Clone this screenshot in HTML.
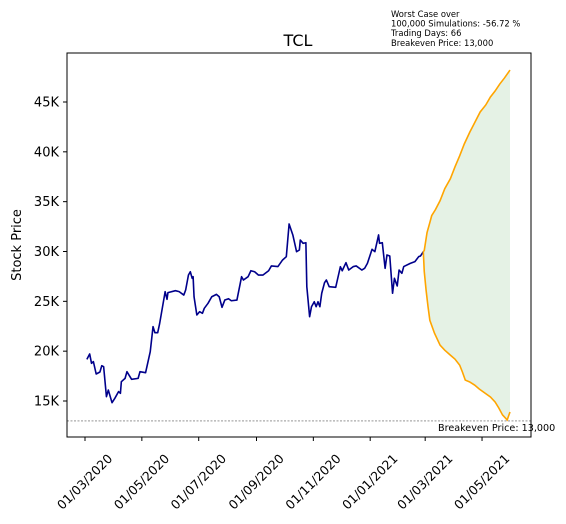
<!DOCTYPE html>
<html><head><meta charset="utf-8"><style>
html,body{margin:0;padding:0;background:#fff;}
svg{display:block;font-family:"DejaVu Sans","Liberation Sans",sans-serif;}
</style></head><body>
<svg id="chart" width="566" height="524" viewBox="0 0 566 524"></svg>
<script>
const histDays=[2,5,7,9,12,16,18,20,22,23,25,29,32,36,38,39,43,45,50,57,59,65,70,73,75,78,80,82,86,88,89,97,101,106,108,111,113,115,116,117,120,123,126,128,132,136,141,144,147,150,154,157,163,168,170,175,178,182,186,191,197,200,207,212,216,219,223,227,230,231,234,237,238,241,243,246,248,250,252,254,257,259,262,269,274,276,280,283,288,291,297,300,303,308,311,315,316,319,322,324,327,330,332,335,337,340,342,349,354,358,360,363];
const histValues=[19180,19720,18780,18950,17710,17910,18540,18440,16440,15430,16100,14830,15270,15940,15770,16940,17270,17940,17180,17270,17940,17840,19950,22460,21850,21850,22730,23800,25970,25200,25870,26070,25970,25630,26140,27640,27970,27310,27470,25460,23630,23960,23800,24300,24800,25460,25700,25460,24400,25130,25260,25060,25130,27470,27140,27470,28070,27970,27640,27640,28070,28550,28490,29150,29480,32760,31660,29980,30150,31150,30820,30880,26470,23460,24460,24960,24460,24960,24460,25810,26870,27140,26470,26410,28470,28070,28880,28140,28490,28550,28140,28310,28810,30220,29980,31660,30820,30880,28310,29650,29550,25810,27310,26540,28140,27810,28490,28810,28980,29480,29550,29980];
const upperDays=[363,364,367,370,372,376,381,386,392,397,402,407,413,418,424,430,435,440,445,450,456];
const upperValues=[29980,30100,31900,32900,33600,34200,35100,36300,37300,38500,39600,40800,42000,42900,44000,44700,45500,46100,46800,47400,48200];
const lowerDays=[363,364,366,368,370,375,381,386,392,397,402,405,408,413,418,423,429,435,440,444,448,451,453,456];
const lowerValues=[29980,28000,26100,24500,23100,21800,20600,20100,19600,19200,18600,17900,17100,16900,16600,16200,15800,15400,14900,14300,13600,13300,13100,13900];
const breakeven=13000;
const yTicks=[15000,20000,25000,30000,35000,40000,45000];
const yTickLabels=["15K","20K","25K","30K","35K","40K","45K"];
const xTickDays=[0,61,122,184,245,306,365,426];
const xTickLabels=["01/03/2020","01/05/2020","01/07/2020","01/09/2020","01/11/2020","01/01/2021","01/03/2021","01/05/2021"];

const L=67,R=531,T=53,B=437;
const xs=d=>85+d*0.932;
const ys=v=>401-(v-15000)*0.009967;
const NS="http://www.w3.org/2000/svg";
const svg=document.getElementById('chart');
function mk(tag,attrs,parent){const e=document.createElementNS(NS,tag);for(const k in attrs)e.setAttribute(k,attrs[k]);(parent||svg).appendChild(e);return e;}

let fp=upperDays.map((d,i)=>xs(d)+','+ys(upperValues[i]));
for(let i=lowerDays.length-1;i>=0;i--)fp.push(xs(lowerDays[i])+','+ys(lowerValues[i]));
const fill=mk('polygon',{points:fp.join(' '),fill:'#e5f2e5',stroke:'none'});



const bl=mk('line',{x1:L,x2:R,y1:ys(breakeven),y2:ys(breakeven),stroke:'#555','stroke-width':0.6,'stroke-dasharray':'2,1.5'});


const bt=mk('text',{x:438,y:ys(breakeven)+10,'font-size':9.6,fill:'#000'});
bt.textContent='Breakeven Price: 13,000';



const hl=mk('polyline',{points:histDays.map((d,i)=>xs(d)+','+ys(histValues[i])).join(' '),fill:'none',stroke:'#00008b','stroke-width':1.6,'stroke-linejoin':'round'});


const ul=mk('polyline',{points:upperDays.map((d,i)=>xs(d)+','+ys(upperValues[i])).join(' '),fill:'none',stroke:'#ffa500','stroke-width':1.6});


const ll=mk('polyline',{points:lowerDays.map((d,i)=>xs(d)+','+ys(lowerValues[i])).join(' '),fill:'none',stroke:'#ffa500','stroke-width':1.6});



const fr=mk('rect',{x:L,y:T,width:R-L,height:B-T,fill:'none',stroke:'#000','stroke-width':1});



yTicks.forEach((v,i)=>{
  const y=ys(v);
  const t=mk('line',{x1:L-4,x2:L,y1:y,y2:y,stroke:'#000'});
  
  
  const tx=mk('text',{x:L-8,y:y+4.5,'text-anchor':'end','font-size':13});
  tx.textContent=yTickLabels[i];
  
  
});
xTickDays.forEach((d,i)=>{
  const x=xs(d);
  const t=mk('line',{x1:x,x2:x,y1:B,y2:B+4,stroke:'#000'});
  
  
  const cy=B+45;
  const tx=mk('text',{x:x,y:cy+4,'text-anchor':'middle','font-size':12.5,transform:`rotate(-45 ${x} ${cy})`});
  tx.textContent=xTickLabels[i];
  
  
});

const title=mk('text',{x:298,y:46,'text-anchor':'middle','font-size':16});
title.textContent='TCL';


const yl=mk('text',{x:21,y:245,'text-anchor':'middle','font-size':13,transform:'rotate(-90 21 245)'});
yl.textContent='Stock Price';



const notes=['Worst Case over','100,000 Simulations: -56.72 %','Trading Days: 66','Breakeven Price: 13,000'];
notes.forEach((s,i)=>{
  const t=mk('text',{x:391,y:17+i*9.6,'font-size':8.4});
  t.textContent=s;
  
  
});
</script>
</body></html>
